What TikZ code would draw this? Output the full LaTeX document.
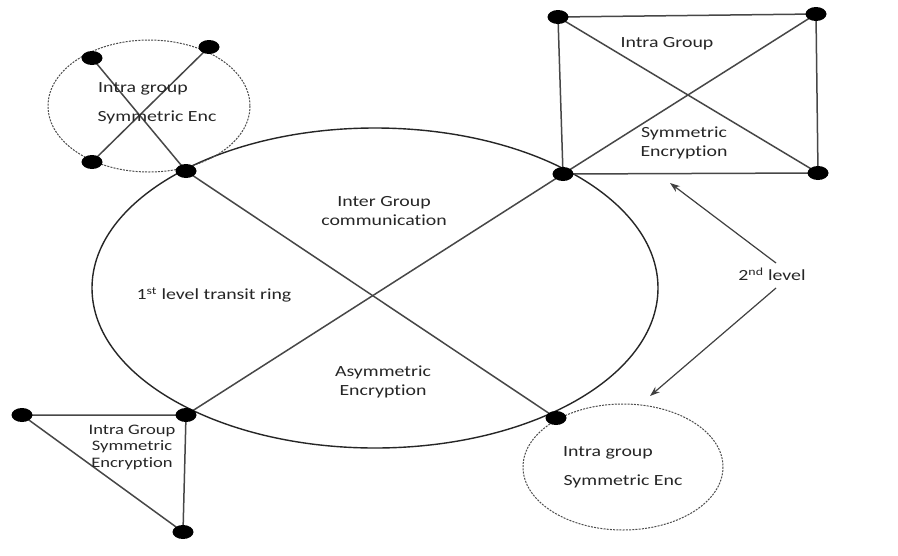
\documentclass[tikz,border=0pt]{standalone}
\usepackage{fontspec}
\setmainfont{Carlito}[FakeStretch=1.28,Ligatures=NoCommon]
\usetikzlibrary{arrows.meta}
\begin{document}
\begin{tikzpicture}[x=1pt,y=-1pt,
  link/.style={draw=black!72,line width=1.5pt},
  ring/.style={draw=black!85,line width=1.4pt},
  dashring/.style={draw=black!70,line width=1pt,dash pattern=on 2pt off 1.2pt},
  lbl/.style={font=\fontsize{15.5}{19}\selectfont,align=center,text=black!85},
  pointer/.style={draw=black!75,line width=1.2pt,-{Stealth[length=10pt,width=7pt]}}]
\useasboundingbox[fill=white] (0,0) rectangle (898,555);

% transit ring and the two group rings
\draw[ring] (375,288) ellipse [x radius=283, y radius=160];
\draw[dashring] (149,106) ellipse [x radius=101, y radius=66];
\draw[dashring] (623,467) ellipse [x radius=100, y radius=63];

% group nodes
\coordinate (A) at (186,171);
\coordinate (B) at (563,174);
\coordinate (C) at (186,415);
\coordinate (D) at (556,418);
\coordinate (p1) at (92,58);
\coordinate (p2) at (209,47);
\coordinate (p3) at (92,162);
\coordinate (q1) at (558,17);
\coordinate (q2) at (816,14);
\coordinate (q3) at (818,173);
\coordinate (r1) at (22,415);
\coordinate (r2) at (183,532);

% connections
\draw[link] (A) -- (D);
\draw[link] (B) -- (C);
\draw[link] (p1) -- (A);
\draw[link] (p2) -- (p3);
\draw[link] (q1) -- (q2) -- (q3) -- (B) -- cycle;
\draw[link] (q1) -- (q3);
\draw[link] (B) -- (q2);
\draw[link] (r1) -- (C) -- (r2) -- cycle;

% node dots
\foreach \p in {A,B,C,D,p1,p2,p3,q1,q2,q3,r1,r2}
  \fill (\p) ellipse [x radius=10.5, y radius=7];

% labels
\node[lbl] (t1) at (143,89) {Intra group};
\node[lbl] (t2) at (157,117) {Symmetric Enc};
\node[lbl] (t3) at (667,44) {Intra Group};
\node[lbl] (t4) at (684,143) {Symmetric\\Encryption};
\node[lbl] (t5) at (384,211) {Inter Group\\communication};
\node[lbl] (t6) at (214,295) {1\textsuperscript{st} level transit ring};
\node[lbl] (t7) at (383,382) {Asymmetric\\Encryption};
\node[lbl,font=\fontsize{14.5}{16.5}\selectfont] (t8) at (132,447) {Intra Group\\Symmetric\\Encryption};
\node[lbl] (t9) at (608,453) {Intra group};
\node[lbl] (t10) at (623,481) {Symmetric Enc};
\node[lbl] (lv) at (772,274) {2\textsuperscript{nd} level};

% pointers to the second level groups
\coordinate (e1) at (670,183);
\coordinate (e2) at (650,396);
\draw[pointer] (776,263) -- (e1);
\draw[pointer] (776,288) -- (e2);
\end{tikzpicture}
\end{document}
